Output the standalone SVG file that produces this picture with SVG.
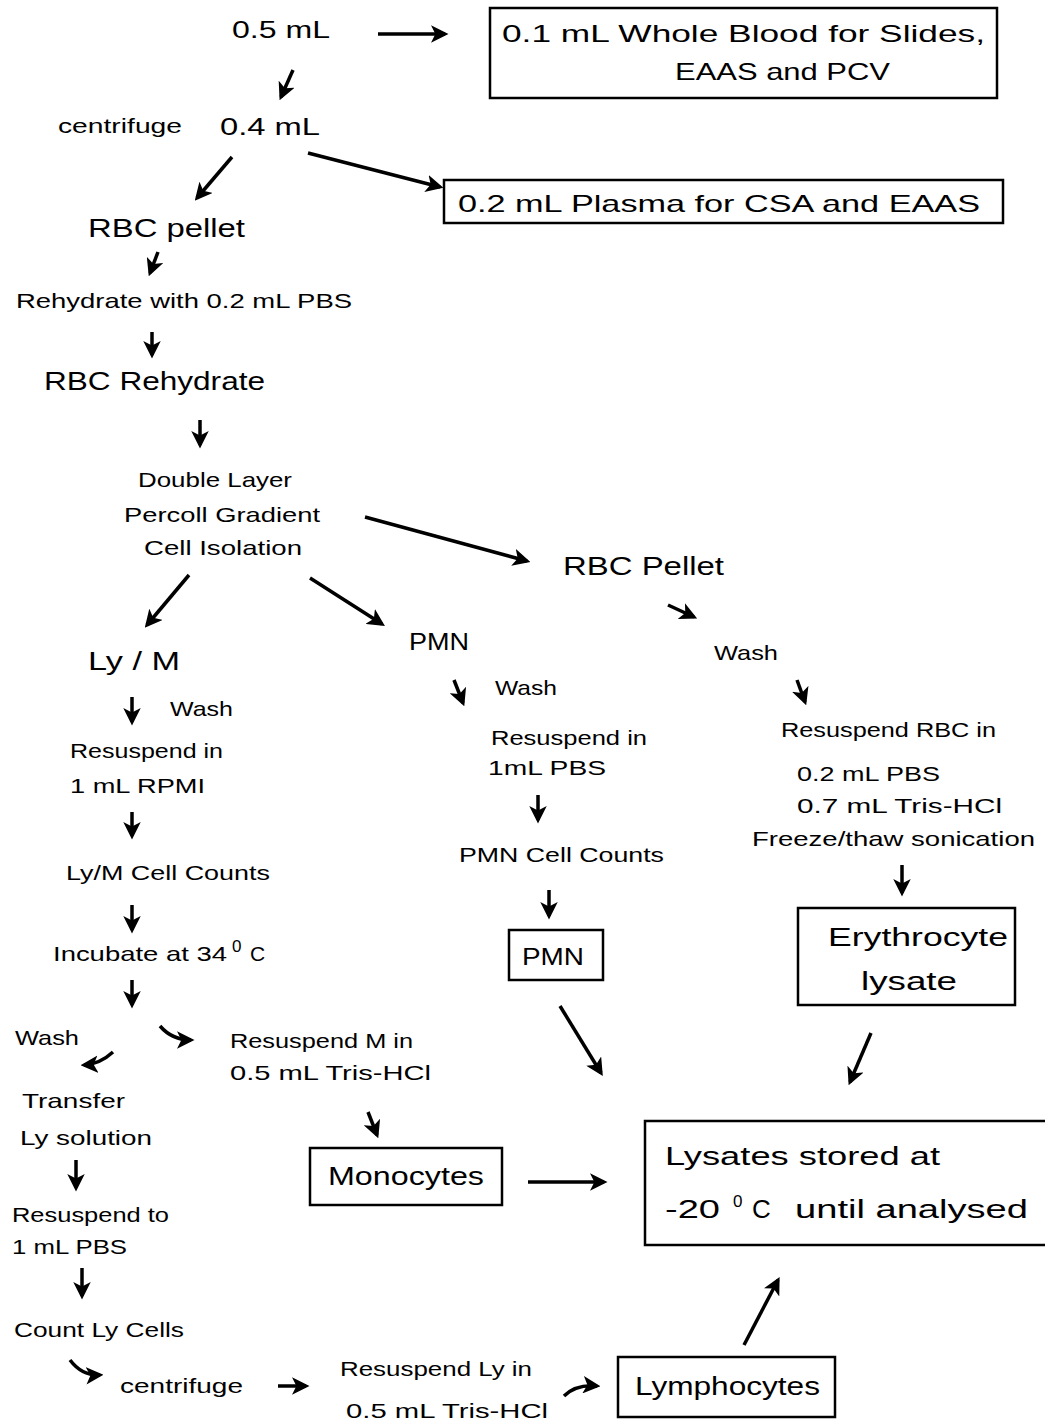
<svg xmlns="http://www.w3.org/2000/svg" width="1045" height="1423" viewBox="0 0 1045 1423">
<defs>
<marker id="ah" viewBox="0 0 10 10" refX="8" refY="5" markerWidth="5" markerHeight="5" orient="auto" markerUnits="strokeWidth">
<path d="M0,0 L10,5 L0,10 L2.5,5 z" fill="#000"/>
</marker>
</defs>
<style>
text{font-family:"Liberation Sans","DejaVu Sans",sans-serif;fill:#000}
.l{font-size:26px}
.m{font-size:24px}
.s{font-size:21px}
.sup{font-size:17px}
.box{fill:none;stroke:#000;stroke-width:2.5}
.c{fill:none;stroke:#000;stroke-width:3.5;marker-end:url(#ah)}
</style>
<rect width="1045" height="1423" fill="#fff"/>

<g id="n-05">
<text class="m" x="232" y="38" textLength="98" lengthAdjust="spacingAndGlyphs">0.5 mL</text>
</g>
<g id="n-wholeblood">
<rect class="box" x="490" y="8" width="507" height="90"/>
<text class="m" x="502" y="42" textLength="483" lengthAdjust="spacingAndGlyphs">0.1 mL  Whole Blood for Slides,</text>
<text class="m" x="675" y="80" textLength="215" lengthAdjust="spacingAndGlyphs">EAAS and PCV</text>
</g>
<g id="n-04">
<text class="s" x="58" y="133" textLength="124" lengthAdjust="spacingAndGlyphs">centrifuge</text>
<text class="m" x="220" y="135" textLength="100" lengthAdjust="spacingAndGlyphs">0.4 mL</text>
</g>
<g id="n-plasma">
<rect class="box" x="444" y="180" width="559" height="43"/>
<text class="m" x="458" y="212" textLength="522" lengthAdjust="spacingAndGlyphs">0.2 mL  Plasma for CSA and EAAS</text>
</g>
<g id="n-rbcpellet1">
<text class="l" x="88" y="237" textLength="157" lengthAdjust="spacingAndGlyphs">RBC pellet</text>
</g>
<g id="n-rehydrate">
<text class="s" x="16" y="308" textLength="336" lengthAdjust="spacingAndGlyphs">Rehydrate with 0.2 mL  PBS</text>
</g>
<g id="n-rbcrehydrate">
<text class="l" x="44" y="390" textLength="221" lengthAdjust="spacingAndGlyphs">RBC Rehydrate</text>
</g>
<g id="n-percoll">
<text class="s" x="138" y="487" textLength="154" lengthAdjust="spacingAndGlyphs">Double Layer</text>
<text class="s" x="124" y="522" textLength="196" lengthAdjust="spacingAndGlyphs">Percoll Gradient</text>
<text class="s" x="144" y="555" textLength="158" lengthAdjust="spacingAndGlyphs">Cell Isolation</text>
</g>
<g id="n-rbcpellet2">
<text class="l" x="563" y="575" textLength="161" lengthAdjust="spacingAndGlyphs">RBC Pellet</text>
</g>
<g id="n-lym">
<text class="l" x="88" y="670" textLength="92" lengthAdjust="spacingAndGlyphs">Ly / M</text>
</g>
<g id="n-pmn1">
<text class="m" x="409" y="650" textLength="60" lengthAdjust="spacingAndGlyphs">PMN</text>
</g>
<g id="n-rbcwash">
<text class="s" x="714" y="660" textLength="64" lengthAdjust="spacingAndGlyphs">Wash</text>
<text class="s" x="781" y="737" textLength="215" lengthAdjust="spacingAndGlyphs">Resuspend RBC in</text>
<text class="s" x="797" y="781" textLength="143" lengthAdjust="spacingAndGlyphs">0.2 mL PBS</text>
<text class="s" x="797" y="813" textLength="205" lengthAdjust="spacingAndGlyphs">0.7 mL Tris-HCl</text>
<text class="s" x="752" y="846" textLength="283" lengthAdjust="spacingAndGlyphs">Freeze/thaw sonication</text>
</g>
<g id="n-erythro">
<rect class="box" x="798" y="908" width="217" height="97"/>
<text class="l" x="828" y="946" textLength="180" lengthAdjust="spacingAndGlyphs">Erythrocyte</text>
<text class="l" x="861" y="990" textLength="96" lengthAdjust="spacingAndGlyphs">lysate</text>
</g>
<g id="n-pmnwash">
<text class="s" x="495" y="695" textLength="62" lengthAdjust="spacingAndGlyphs">Wash</text>
<text class="s" x="491" y="745" textLength="156" lengthAdjust="spacingAndGlyphs">Resuspend in</text>
<text class="s" x="488" y="775" textLength="118" lengthAdjust="spacingAndGlyphs">1mL  PBS</text>
</g>
<g id="n-pmncounts">
<text class="s" x="459" y="862" textLength="205" lengthAdjust="spacingAndGlyphs">PMN Cell Counts</text>
</g>
<g id="n-pmn2">
<rect class="box" x="509" y="930" width="94" height="50"/>
<text class="m" x="522" y="965" textLength="62" lengthAdjust="spacingAndGlyphs">PMN</text>
</g>
<g id="n-lymwash">
<text class="s" x="170" y="716" textLength="63" lengthAdjust="spacingAndGlyphs">Wash</text>
<text class="s" x="70" y="758" textLength="153" lengthAdjust="spacingAndGlyphs">Resuspend in</text>
<text class="s" x="70" y="793" textLength="135" lengthAdjust="spacingAndGlyphs">1 mL  RPMI</text>
</g>
<g id="n-lymcounts">
<text class="s" x="66" y="880" textLength="204" lengthAdjust="spacingAndGlyphs">Ly/M Cell Counts</text>
</g>
<g id="n-incubate">
<text class="s" x="53" y="961" textLength="174" lengthAdjust="spacingAndGlyphs">Incubate at 34</text>
<text class="sup" x="232" y="952">0</text>
<text class="s" x="250" y="961">C</text>
</g>
<g id="n-wash3">
<text class="s" x="15" y="1045" textLength="64" lengthAdjust="spacingAndGlyphs">Wash</text>
</g>
<g id="n-resuspM">
<text class="s" x="230" y="1048" textLength="183" lengthAdjust="spacingAndGlyphs">Resuspend M in</text>
<text class="s" x="230" y="1080" textLength="201" lengthAdjust="spacingAndGlyphs">0.5 mL Tris-HCl</text>
</g>
<g id="n-monocytes">
<rect class="box" x="310" y="1148" width="192" height="57"/>
<text class="l" x="328" y="1185" textLength="156" lengthAdjust="spacingAndGlyphs">Monocytes</text>
</g>
<g id="n-lysates">
<rect class="box" x="645" y="1121" width="405" height="124"/>
<text class="l" x="665" y="1165" textLength="275" lengthAdjust="spacingAndGlyphs">Lysates stored at</text>
<text class="l" x="665" y="1218" textLength="55" lengthAdjust="spacingAndGlyphs">-20</text>
<text class="sup" x="733" y="1207">0</text>
<text class="l" x="752" y="1218">C</text>
<text class="l" x="795" y="1218" textLength="233" lengthAdjust="spacingAndGlyphs">until analysed</text>
</g>
<g id="n-transfer">
<text class="s" x="22" y="1108" textLength="103" lengthAdjust="spacingAndGlyphs">Transfer</text>
<text class="s" x="20" y="1145" textLength="132" lengthAdjust="spacingAndGlyphs">Ly solution</text>
</g>
<g id="n-resusp1pbs">
<text class="s" x="12" y="1222" textLength="157" lengthAdjust="spacingAndGlyphs">Resuspend  to</text>
<text class="s" x="12" y="1254" textLength="115" lengthAdjust="spacingAndGlyphs">1 mL PBS</text>
</g>
<g id="n-countly">
<text class="s" x="14" y="1337" textLength="170" lengthAdjust="spacingAndGlyphs">Count Ly Cells</text>
</g>
<g id="n-centrifuge2">
<text class="s" x="120" y="1393" textLength="123" lengthAdjust="spacingAndGlyphs">centrifuge</text>
</g>
<g id="n-resuspLy">
<text class="s" x="340" y="1376" textLength="192" lengthAdjust="spacingAndGlyphs">Resuspend Ly in</text>
<text class="s" x="346" y="1418" textLength="202" lengthAdjust="spacingAndGlyphs">0.5 mL Tris-HCl</text>
</g>
<g id="n-lymphocytes">
<rect class="box" x="618" y="1357" width="217" height="60"/>
<text class="l" x="635" y="1395" textLength="185" lengthAdjust="spacingAndGlyphs">Lymphocytes</text>
</g>

<g id="connectors">
<path class="c" d="M378,34 L445,34"/>
<path class="c" d="M293,70 L281,97"/>
<path class="c" d="M232,157 L197,198"/>
<path class="c" d="M308,153 L440,187"/>
<path class="c" d="M158,252 L150,273"/>
<path class="c" d="M152,332 L152,355"/>
<path class="c" d="M200,420 L200,445"/>
<path class="c" d="M365,517 L527,561"/>
<path class="c" d="M189,575 L147,625"/>
<path class="c" d="M310,578 L382,624"/>
<path class="c" d="M668,605 L694,617"/>
<path class="c" d="M797,680 L805,702"/>
<path class="c" d="M902,865 L902,893"/>
<path class="c" d="M454,680 L463,703"/>
<path class="c" d="M538,795 L538,820"/>
<path class="c" d="M549,890 L549,916"/>
<path class="c" d="M560,1006 L601,1073"/>
<path class="c" d="M871,1033 L850,1082"/>
<path class="c" d="M132,697 L132,722"/>
<path class="c" d="M132,812 L132,836"/>
<path class="c" d="M132,905 L132,930"/>
<path class="c" d="M132,980 L132,1005"/>
<path class="c" d="M113,1052 Q100,1064 84,1065"/>
<path class="c" d="M160,1026 Q172,1040 191,1040"/>
<path class="c" d="M368,1112 L377,1135"/>
<path class="c" d="M528,1182 L604,1182"/>
<path class="c" d="M76,1160 L76,1188"/>
<path class="c" d="M82,1268 L82,1296"/>
<path class="c" d="M70,1360 Q82,1376 100,1375"/>
<path class="c" d="M278,1386 L306,1386"/>
<path class="c" d="M564,1396 Q576,1384 597,1386"/>
<path class="c" d="M744,1345 L778,1280"/>
</g>
</svg>
